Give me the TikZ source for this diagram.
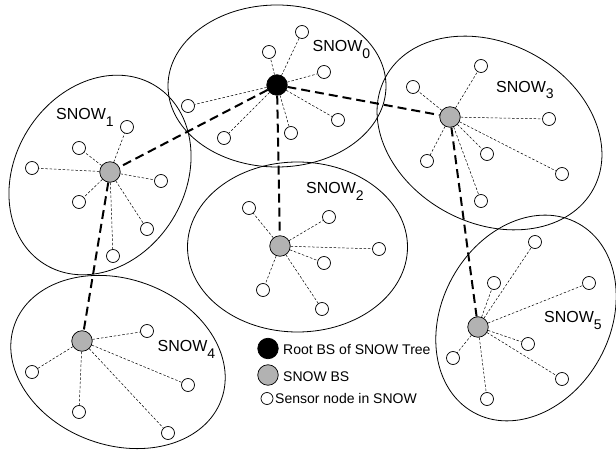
\documentclass[tikz,border=0pt]{standalone}
\usepackage{fontspec}
\setmainfont{Liberation Sans}
\newcommand\snsub[1]{\raisebox{-6.5pt}{\fontsize{14}{14}\selectfont #1}}
\begin{document}
\begin{tikzpicture}[x=1pt,y=-1pt,
  sensor/.style={circle, draw, fill=white, minimum size=13pt, inner sep=0pt, line width=0.7pt},
  bs/.style={circle, draw, fill=black!30, minimum size=20.5pt, inner sep=0pt, line width=0.7pt},
  rootbs/.style={bs, fill=black},
  link/.style={dash pattern=on 2.5pt off 1.8pt, line width=0.5pt},
  trunk/.style={dash pattern=on 9pt off 5pt, line width=2pt},
  cell/.style={line width=0.8pt},
  lbl/.style={anchor=base west, inner sep=0pt, font=\fontsize{16}{16}\selectfont},
  leg/.style={anchor=base west, inner sep=0pt, font=\fontsize{14}{14}\selectfont}]
\useasboundingbox (0,0) rectangle (616,454);
% cells
\draw[cell] (277,86) ellipse [x radius=109pt, y radius=81pt];
\draw[cell, rotate around={58:(100,175)}] (100,175) ellipse [x radius=105pt, y radius=85pt];
\draw[cell] (297.5,247) ellipse [x radius=110pt, y radius=85pt];
\draw[cell, rotate around={-28:(489.5,133)}] (489.5,133) ellipse [x radius=118pt, y radius=90pt];
\draw[cell, rotate around={-20:(118,362)}] (118,362) ellipse [x radius=110pt, y radius=83pt];
\draw[cell, rotate around={61:(526,318)}] (526,318) ellipse [x radius=108pt, y radius=84pt];
% base stations
\node[rootbs] (r0) at (277,85) {};
\node[bs] (b1) at (110,172) {};
\node[bs] (b2) at (280,246) {};
\node[bs] (b3) at (450,117) {};
\node[bs] (b4) at (82,341) {};
\node[bs] (b5) at (478,327) {};
% sensors
\foreach \p [count=\i] in {(302,32),(269,52),(324,72),(188,106),(224,138),(291,133),(338,120)}
  {\node[sensor] (sa\i) at \p {}; \draw[link] (r0) -- (sa\i);}
\foreach \p [count=\i] in {(127,127),(79,148),(32,168),(161,181),(79,202),(147,229),(113,256)}
  {\node[sensor] (sb\i) at \p {}; \draw[link] (b1) -- (sb\i);}
\foreach \p [count=\i] in {(249,208),(329,217),(379,249),(324,263),(263,290),(322,309)}
  {\node[sensor] (sc\i) at \p {}; \draw[link] (b2) -- (sc\i);}
\foreach \p [count=\i] in {(481,66),(413,87),(549,119),(487,154),(427,161),(562,174),(481,201)}
  {\node[sensor] (sd\i) at \p {}; \draw[link] (b3) -- (sd\i);}
\foreach \p [count=\i] in {(147,331),(32,372),(188,385),(79,412),(168,433)}
  {\node[sensor] (se\i) at \p {}; \draw[link] (b4) -- (se\i);}
\foreach \p [count=\i] in {(535,242),(494,283),(589,283),(528,344),(453,358),(562,379),(487,399)}
  {\node[sensor] (sf\i) at \p {}; \draw[link] (b5) -- (sf\i);}
% tree links
\draw[trunk] (r0) -- (b1);
\draw[trunk] (r0) -- (b2);
\draw[trunk] (r0) -- (b3);
\draw[trunk] (b1) -- (b4);
\draw[trunk] (b3) -- (b5);
% labels
\node[lbl] (l0) at (312.5,51.7) {SNOW\snsub{0}};
\node[lbl] (l1) at (56,120) {SNOW\snsub{1}};
\node[lbl] (l2) at (306,194) {SNOW\snsub{2}};
\node[lbl] (l3) at (496,92.5) {SNOW\snsub{3}};
\node[lbl] (l4) at (157.5,352) {SNOW\snsub{4}};
\node[lbl] (l5) at (544,323) {SNOW\snsub{5}};
% legend
\node[rootbs] (k1) at (268,348.5) {};
\node[leg] (t1) at (283,355) {Root BS of SNOW Tree};
\node[bs] (k2) at (268,375) {};
\node[leg] (t2) at (283,381.7) {SNOW BS};
\node[sensor, minimum size=12pt] (k3) at (267,398.5) {};
\node[leg] (t3) at (275,403.3) {Sensor node in SNOW};
\end{tikzpicture}
\end{document}
